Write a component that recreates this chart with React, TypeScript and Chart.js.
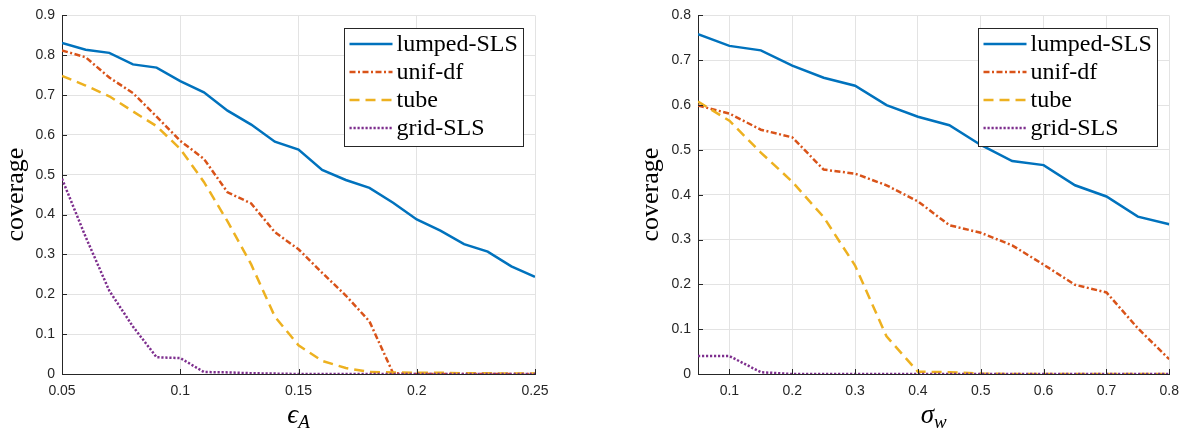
import React, { useEffect, useRef } from "react";
import { Chart, registerables } from "chart.js";

Chart.register(...registerables);

// ---------- data ----------
const epsX = [0.05, 0.06, 0.07, 0.08, 0.09, 0.1, 0.11, 0.12, 0.13, 0.14, 0.15, 0.16, 0.17, 0.18, 0.19, 0.2, 0.21, 0.22, 0.23, 0.24, 0.25];
const epsLumped = [0.831, 0.814, 0.806, 0.777, 0.769, 0.735, 0.707, 0.661, 0.626, 0.583, 0.563, 0.512, 0.487, 0.467, 0.43, 0.388, 0.36, 0.326, 0.307, 0.27, 0.244];
const epsUnif = [0.812, 0.795, 0.744, 0.705, 0.646, 0.585, 0.54, 0.456, 0.428, 0.356, 0.313, 0.254, 0.197, 0.132, 0.002, 0, 0, 0, 0, 0, 0];
const epsTube = [0.748, 0.724, 0.697, 0.659, 0.622, 0.565, 0.482, 0.383, 0.275, 0.144, 0.072, 0.033, 0.015, 0.005, 0.004, 0.003, 0.003, 0.002, 0.002, 0.001, 0.001];
const epsGrid = [0.49, 0.344, 0.209, 0.119, 0.042, 0.04, 0.005, 0.004, 0.002, 0.001, 0, 0, 0, 0, 0, 0, 0, 0, 0, 0, 0];

const sigX = [0.05, 0.1, 0.15, 0.2, 0.25, 0.3, 0.35, 0.4, 0.45, 0.5, 0.55, 0.6, 0.65, 0.7, 0.75, 0.8];
const sigLumped = [0.758, 0.732, 0.722, 0.688, 0.661, 0.643, 0.6, 0.574, 0.555, 0.511, 0.475, 0.466, 0.421, 0.396, 0.351, 0.334];
const sigUnif = [0.599, 0.581, 0.545, 0.528, 0.456, 0.447, 0.421, 0.385, 0.332, 0.315, 0.287, 0.244, 0.199, 0.182, 0.102, 0.033];
const sigTube = [0.608, 0.565, 0.494, 0.429, 0.35, 0.242, 0.084, 0.005, 0.004, 0.001, 0, 0, 0, 0, 0, 0];
const sigGrid = [0.04, 0.04, 0.004, 0, 0, 0, 0, 0, 0, 0, 0, 0, 0, 0, 0, 0];

const seriesNames = ["lumped-SLS", "unif-df", "tube", "grid-SLS"];

const epsXTicks = [0.05, 0.1, 0.15, 0.2, 0.25];
const epsYTicks = [0, 0.1, 0.2, 0.3, 0.4, 0.5, 0.6, 0.7, 0.8, 0.9];
const sigXTicks = [0.1, 0.2, 0.3, 0.4, 0.5, 0.6, 0.7, 0.8];
const sigYTicks = [0, 0.1, 0.2, 0.3, 0.4, 0.5, 0.6, 0.7, 0.8];

// ---------- styles ----------
const COLORS = ["#0072BD", "#D95319", "#EDB120", "#7E2F8E"];
const DASHES: number[][] = [[], [6, 2.5, 2, 2.5], [10, 6], [2.2, 1.8]];
const AXIS = "#262626";
const GRID = "#e3e3e3";
const SANS = '"Liberation Sans", Arial, sans-serif';
const SERIF = '"Liberation Serif", "DejaVu Serif", serif';

const fmt = (v: number) => String(Number(v.toFixed(2)));

const decorPlugin = {
  id: "decor",
  afterDatasetsDraw(chart: any, _args: any, opts: any) {
    const { ctx, chartArea } = chart;
    const xs = chart.scales.x;
    const ys = chart.scales.y;
    ctx.save();
    // inward tick marks
    ctx.strokeStyle = AXIS;
    ctx.lineWidth = 1;
    ctx.setLineDash([]);
    xs.ticks.forEach((t: any) => {
      const px = Math.round(xs.getPixelForValue(t.value)) + 0.5;
      ctx.beginPath();
      ctx.moveTo(px, chartArea.bottom);
      ctx.lineTo(px, chartArea.bottom - 5);
      ctx.stroke();
    });
    ys.ticks.forEach((t: any) => {
      const py = Math.round(ys.getPixelForValue(t.value)) + 0.5;
      ctx.beginPath();
      ctx.moveTo(chartArea.left, py);
      ctx.lineTo(chartArea.left + 5, py);
      ctx.stroke();
    });

    // legend box
    const bw = 179, bh = 118;
    const bx = Math.round(chartArea.right - 12 - bw) + 0.5;
    const by = Math.round(chartArea.top + 13) + 0.5;
    ctx.fillStyle = "#ffffff";
    ctx.fillRect(bx, by, bw, bh);
    ctx.strokeStyle = AXIS;
    ctx.lineWidth = 1;
    ctx.strokeRect(bx, by, bw, bh);
    chart.data.datasets.forEach((ds: any, i: number) => {
      const ry = by + 15.5 + i * 28;
      ctx.beginPath();
      ctx.strokeStyle = ds.borderColor;
      ctx.lineWidth = ds.borderWidth;
      ctx.setLineDash(ds.borderDash || []);
      ctx.moveTo(bx + 5, ry);
      ctx.lineTo(bx + 48, ry);
      ctx.stroke();
      ctx.setLineDash([]);
      ctx.fillStyle = "#000";
      ctx.font = `24px ${SERIF}`;
      ctx.textBaseline = "middle";
      ctx.textAlign = "left";
      ctx.fillText(ds.label, bx + 52, ry + 1);
    });

    // x-axis title with subscript
    const cx = (chartArea.left + chartArea.right) / 2 + (opts.dx || 0);
    ctx.fillStyle = "#000";
    ctx.textBaseline = "alphabetic";
    ctx.textAlign = "left";
    ctx.font = `italic 27px ${SERIF}`;
    const mw = ctx.measureText(opts.main).width;
    ctx.font = `italic 19px ${SERIF}`;
    const sw = ctx.measureText(opts.sub).width;
    const x0 = cx - (mw + sw) / 2;
    ctx.font = `italic 27px ${SERIF}`;
    ctx.fillText(opts.main, x0, opts.base);
    ctx.font = `italic 19px ${SERIF}`;
    ctx.fillText(opts.sub, x0 + mw, opts.base + 5);
    ctx.restore();
  },
};

function makeConfig(
  xs: number[],
  series: number[][],
  xTicks: number[],
  yTicks: number[],
  yMax: number,
  yWidth: number,
  rightPad: number,
  titlePad: number,
  main: string,
  sub: string
): any {
  const datasets = series.map((vals, i) => ({
    label: seriesNames[i],
    data: xs.map((x, j) => ({ x, y: vals[j] })),
    borderColor: COLORS[i],
    backgroundColor: COLORS[i],
    borderWidth: 2.5,
    borderDash: DASHES[i],
    borderCapStyle: "butt",
    pointRadius: 0,
    tension: 0,
    fill: false,
    order: 3 - i,
  }));
  return {
    type: "line",
    data: { datasets },
    plugins: [decorPlugin],
    options: {
      animation: false,
      responsive: false,
      devicePixelRatio: 1,
      layout: { autoPadding: false, padding: { left: 0, right: rightPad, top: 6, bottom: 0 } },
      plugins: {
        legend: { display: false },
        tooltip: { enabled: false },
        decor: { main, sub, base: 423 },
      },
      scales: {
        x: {
          type: "linear",
          min: xs[0],
          max: xs[xs.length - 1],
          afterBuildTicks: (s: any) => {
            s.ticks = xTicks.map((v) => ({ value: v }));
          },
          afterFit: (s: any) => {
            s.height = 56;
          },
          grid: { color: GRID, lineWidth: 1, drawTicks: false },
          border: { color: AXIS, width: 1 },
          ticks: {
            color: AXIS,
            font: { family: SANS, size: 14 },
            padding: 9,
            maxRotation: 0,
            autoSkip: false,
            callback: (v: any) => fmt(Number(v)),
          },
        },
        y: {
          type: "linear",
          min: 0,
          max: yMax,
          afterBuildTicks: (s: any) => {
            s.ticks = yTicks.map((v) => ({ value: v }));
          },
          afterFit: (s: any) => {
            s.width = yWidth;
          },
          grid: { color: GRID, lineWidth: 1, drawTicks: false },
          border: { color: AXIS, width: 1 },
          ticks: {
            color: AXIS,
            font: { family: SANS, size: 14 },
            padding: 7,
            autoSkip: false,
            callback: (v: any) => fmt(Number(v)),
          },
          title: {
            display: true,
            text: "coverage",
            color: "#000",
            font: { family: SERIF, size: 26 },
            padding: { top: titlePad, bottom: 0 },
          },
        },
      },
    },
  };
}

function Panel(props: { config: any; left: number }) {
  const ref = useRef<HTMLCanvasElement | null>(null);
  useEffect(() => {
    if (!ref.current) return;
    const chart = new Chart(ref.current, props.config);
    return () => chart.destroy();
  }, []);
  return (
    <canvas
      ref={ref}
      width={594}
      height={430}
      style={{ position: "absolute", left: props.left, top: 0, width: 594, height: 430 }}
    />
  );
}

export default function App() {
  const leftCfg = makeConfig(
    epsX,
    [epsLumped, epsUnif, epsTube, epsGrid],
    epsXTicks,
    epsYTicks,
    0.9,
    62,
    59,
    1,
    "ϵ",
    "A"
  );
  const rightCfg = makeConfig(
    sigX,
    [sigLumped, sigUnif, sigTube, sigGrid],
    sigXTicks,
    sigYTicks,
    0.8,
    104,
    16,
    42,
    "σ",
    "w"
  );
  return (
    <div style={{ position: "fixed", left: 0, top: 0, width: 1188, height: 430, background: "#fff" }}>
      <Panel config={leftCfg} left={0} />
      <Panel config={rightCfg} left={594} />
    </div>
  );
}
